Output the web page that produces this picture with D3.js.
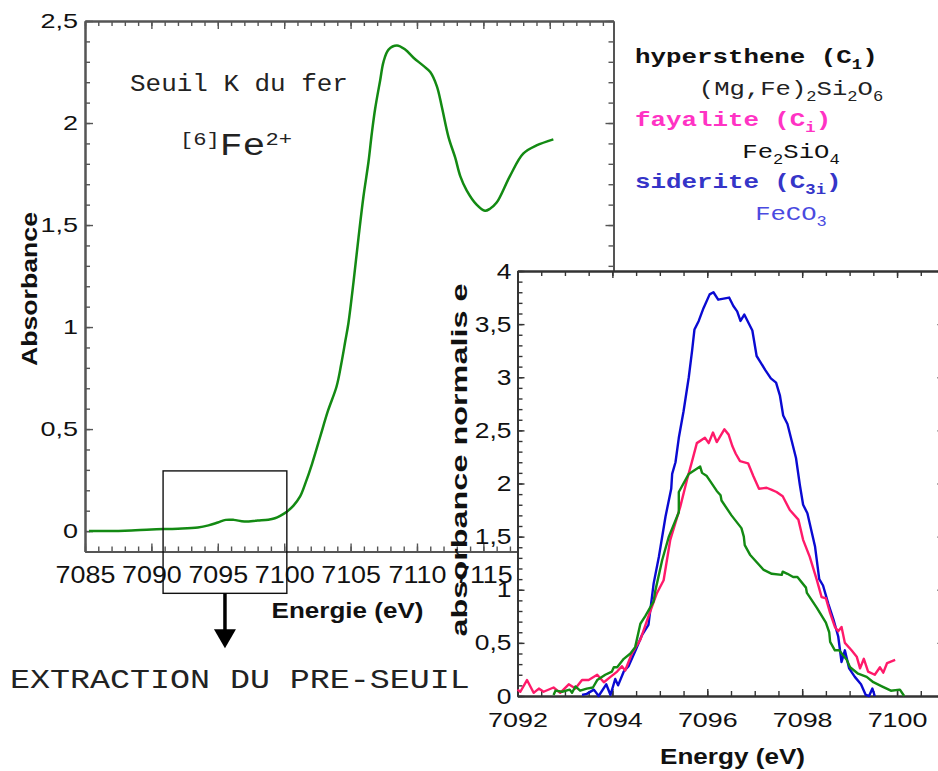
<!DOCTYPE html>
<html>
<head>
<meta charset="utf-8">
<script src="https://cdn.jsdelivr.net/npm/d3@7"></script>
<style>
  body { margin: 0; background: #fff; }
  svg { display: block; }
</style>
</head>
<body>
<div id="chart"></div>
<script>
// Seuil K du fer : spectre complet + extraction du pre-seuil (encart)
var width = 938;
var height = 771;

// main spectrum, [energy eV, absorbance]
var edge = [
  [7085.3, 0.000], [7088.0, 0.002], [7090.0, 0.008], [7092.0, 0.012], [7093.5, 0.018],
  [7094.3, 0.028], [7095.0, 0.042], [7095.6, 0.055], [7096.2, 0.055], [7097.0, 0.047],
  [7098.0, 0.052], [7098.8, 0.056], [7099.3, 0.063], [7099.7, 0.075], [7100.2, 0.095],
  [7100.7, 0.125], [7101.2, 0.170], [7101.6, 0.235], [7102.1, 0.330], [7102.7, 0.460],
  [7103.3, 0.590], [7103.95, 0.710], [7104.3, 0.820], [7104.6, 0.930], [7104.84, 1.020],
  [7105.22, 1.220], [7105.6, 1.440], [7105.97, 1.640], [7106.35, 1.810], [7106.6, 1.950],
  [7106.85, 2.070], [7107.23, 2.210], [7107.48, 2.300], [7107.86, 2.360], [7108.49, 2.380],
  [7109.11, 2.360], [7109.74, 2.320], [7110.49, 2.280], [7111.0, 2.250], [7111.5, 2.180],
  [7111.87, 2.080], [7112.38, 1.930], [7112.88, 1.830], [7113.26, 1.740], [7113.74, 1.670],
  [7114.49, 1.600], [7115.12, 1.570], [7115.5, 1.580], [7116.0, 1.610], [7117.0, 1.740],
  [7118.0, 1.850], [7119.0, 1.890], [7120.27, 1.920]
];

// pre-edge, [energy eV, normalised absorbance]
var hypersthene = [
  [7092.76, 0.01], [7092.80, 0.05], [7092.94, 0.04], [7093.10, 0.06], [7093.15, 0.03],
  [7093.22, 0.09], [7093.32, 0.05], [7093.46, 0.07], [7093.59, 0.08], [7093.68, 0.15],
  [7093.85, 0.20], [7093.99, 0.23], [7094.03, 0.27], [7094.10, 0.27], [7094.24, 0.35],
  [7094.38, 0.40], [7094.48, 0.46], [7094.59, 0.68], [7094.69, 0.75], [7094.87, 0.89],
  [7094.90, 0.98], [7095.05, 1.28], [7095.19, 1.50], [7095.40, 1.73], [7095.40, 1.92],
  [7095.61, 2.09], [7095.85, 2.16], [7095.89, 2.10], [7095.99, 2.07], [7096.20, 1.93],
  [7096.28, 1.89], [7096.30, 1.84], [7096.51, 1.70], [7096.72, 1.58], [7096.77, 1.50],
  [7096.79, 1.42], [7096.90, 1.33], [7097.18, 1.19], [7097.36, 1.15], [7097.57, 1.14],
  [7097.59, 1.17], [7097.69, 1.15], [7097.81, 1.12], [7097.90, 1.12], [7098.08, 1.02],
  [7098.10, 0.97], [7098.31, 0.83], [7098.50, 0.69], [7098.57, 0.60], [7098.59, 0.51],
  [7098.69, 0.43], [7098.78, 0.43], [7098.94, 0.34], [7099.01, 0.27], [7099.18, 0.21],
  [7099.36, 0.18], [7099.50, 0.13], [7099.68, 0.09], [7099.87, 0.05], [7100.06, 0.06],
  [7100.15, 0.00]
];

var fayalite = [
  [7092.00, 0.06], [7092.06, 0.04], [7092.20, 0.15], [7092.34, 0.03], [7092.45, 0.07],
  [7092.55, 0.04], [7092.76, 0.08], [7092.90, 0.03], [7093.08, 0.11], [7093.22, 0.07],
  [7093.36, 0.15], [7093.50, 0.15], [7093.68, 0.20], [7093.82, 0.13], [7093.96, 0.18],
  [7094.10, 0.23], [7094.20, 0.28], [7094.27, 0.24], [7094.41, 0.40], [7094.59, 0.53],
  [7094.76, 0.75], [7094.94, 0.97], [7095.08, 1.09], [7095.22, 1.47], [7095.43, 1.78],
  [7095.57, 2.03], [7095.68, 2.21], [7095.78, 2.38], [7095.95, 2.43], [7096.03, 2.38],
  [7096.12, 2.48], [7096.20, 2.39], [7096.36, 2.51], [7096.45, 2.46], [7096.53, 2.35],
  [7096.60, 2.28], [7096.69, 2.21], [7096.86, 2.19], [7096.97, 2.07], [7097.09, 1.95],
  [7097.25, 1.96], [7097.36, 1.94], [7097.46, 1.92], [7097.59, 1.88], [7097.74, 1.75],
  [7097.92, 1.66], [7098.02, 1.47], [7098.16, 1.31], [7098.31, 1.09], [7098.41, 0.93],
  [7098.50, 0.92], [7098.59, 0.78], [7098.69, 0.65], [7098.76, 0.61], [7098.83, 0.65],
  [7098.90, 0.50], [7099.04, 0.43], [7099.15, 0.37], [7099.22, 0.26], [7099.30, 0.35],
  [7099.39, 0.23], [7099.53, 0.20], [7099.64, 0.27], [7099.71, 0.22], [7099.79, 0.31],
  [7099.96, 0.34]
];

var siderite = [
  [7093.36, 0.01], [7093.46, 0.02], [7093.61, 0.06], [7093.71, 0.00], [7093.87, 0.11],
  [7093.96, 0.01], [7094.06, 0.16], [7094.12, 0.10], [7094.24, 0.23], [7094.34, 0.28],
  [7094.48, 0.42], [7094.62, 0.57], [7094.76, 0.67], [7094.87, 1.06], [7094.98, 1.31],
  [7095.12, 1.69], [7095.24, 1.95], [7095.26, 2.09], [7095.33, 2.20], [7095.40, 2.43],
  [7095.50, 2.68], [7095.61, 3.00], [7095.68, 3.25], [7095.73, 3.45], [7095.82, 3.53],
  [7095.92, 3.65], [7096.05, 3.78], [7096.13, 3.80], [7096.23, 3.73], [7096.46, 3.75],
  [7096.55, 3.67], [7096.63, 3.62], [7096.70, 3.53], [7096.78, 3.59], [7096.95, 3.44],
  [7097.04, 3.20], [7097.11, 3.15], [7097.22, 3.07], [7097.34, 2.99], [7097.45, 2.95],
  [7097.53, 2.83], [7097.60, 2.64], [7097.69, 2.56], [7097.78, 2.40], [7097.87, 2.24],
  [7097.95, 1.99], [7098.02, 1.80], [7098.11, 1.72], [7098.27, 1.41], [7098.36, 1.10],
  [7098.44, 1.04], [7098.55, 0.87], [7098.66, 0.72], [7098.76, 0.56], [7098.83, 0.32],
  [7098.90, 0.43], [7098.99, 0.26], [7099.11, 0.18], [7099.24, 0.11], [7099.34, 0.01],
  [7099.41, 0.00], [7099.48, 0.07], [7099.53, 0.00]
];

// tick labels
var mainXTicks = [7085, 7090, 7095, 7100, 7105, 7110, 7115, 7120];
var mainYTicks = [0, 0.5, 1, 1.5, 2, 2.5];
var insetXTicks = [7092, 7094, 7096, 7098, 7100];
var insetYTicks = [0, 0.5, 1, 1.5, 2, 2.5, 3, 3.5, 4];

// legend
var minerals = ["hypersthene", "fayalite", "siderite"];
var sites = ["1", "i", "3i"];
var formulas = [
  [["(Mg,Fe)", 0], ["2", 1], ["Si", 0], ["2", 1], ["O", 0], ["6", 1]],
  [["Fe", 0], ["2", 1], ["SiO", 0], ["4", 1]],
  [["FeCO", 0], ["3", 1]]
];
var mineralColors = ["#111111", "#ff33c4", "#3535c8"];
var formulaColors = ["#222222", "#111111", "#4a4ae0"];

var SANS = "'Liberation Sans', Arial, sans-serif";
var MONO = "'Liberation Mono', 'Courier New', monospace";

var svg = d3.select("#chart").append("svg")
    .attr("width", width)
    .attr("height", height);

var fmt = function(d) { return String(d).replace(".", ","); };

// stretch a text horizontally to a given width
function fit(t, x, y, w, rot) {
  var bw = t.node().getBBox().width;
  t.attr("transform", "translate(" + x + "," + y + ")" +
    (rot ? " rotate(" + rot + ")" : "") + " scale(" + (w / bw) + ",1)");
}

// parts: [text, 0 normal | 1 sub | -1 sup]
function rich(t, parts, size, small, shift) {
  var cur = 0;
  parts.forEach(function(p) {
    var off = p[1] * shift;
    t.append("tspan")
      .attr("dy", off - cur)
      .attr("font-size", p[1] ? small : size)
      .text(p[0]);
    cur = off;
  });
}

// box axes with inward ticks on the four sides
function frame(g, x, y, o) {
  var xr = x.range(), yr = y.range();
  var sides = [
    [d3.axisBottom, x, "translate(0," + yr[0] + ")", o.xMajor, o.xMinor, true, "x"],
    [d3.axisTop, x, "translate(0," + yr[1] + ")", o.xMajor, o.xMinor, false, "x"],
    [d3.axisLeft, y, "translate(" + xr[0] + ",0)", o.yMajor, o.yMinor, true, "y"],
    [d3.axisRight, y, "translate(" + xr[1] + ",0)", o.yMajor, o.yMinor, false, "y"]
  ];
  sides.forEach(function(s) {
    var mg = g.append("g").attr("transform", s[2])
      .call(s[0](s[1]).tickValues(s[4]).tickSize(-o.minorLen).tickSizeOuter(0).tickFormat(""));
    var ag = g.append("g").attr("transform", s[2])
      .call(s[0](s[1]).tickValues(s[3]).tickSize(-o.majorLen).tickSizeOuter(0)
        .tickPadding(s[6] == "x" ? o.xPad : o.yPad)
        .tickFormat(s[5] ? fmt : ""));
    [mg, ag].forEach(function(a) {
      a.select(".domain").attr("stroke", o.color).attr("stroke-width", o.lineW);
      a.selectAll(".tick line").attr("stroke", o.color).attr("stroke-width", 1.4);
    });
    mg.selectAll("text").remove();
    if (!s[5]) { ag.selectAll("text").remove(); return; }
    var k = s[6] == "x" ? o.xK : o.yK;
    ag.selectAll("text")
      .attr("font-family", SANS)
      .attr("font-size", s[6] == "x" ? o.xFont : o.yFont)
      .attr("fill", "#111")
      .attr("transform", "scale(" + k + ",1)");
    if (s[6] == "y") ag.selectAll("text").attr("x", -o.yPad / k);
  });
}

// ---------- main spectrum ----------
var x = d3.scaleLinear().domain([7085, 7124.8]).range([85, 613.5]);
var y = d3.scaleLinear().domain([-0.1, 2.5]).range([551.5, 21]);

var main = svg.append("g");

frame(main, x, y, {
  xMajor: mainXTicks, xMinor: d3.range(7085, 7125, 1),
  yMajor: mainYTicks, yMinor: d3.range(-0.1, 2.55, 0.1),
  majorLen: 8, minorLen: 5, color: "#555", lineW: 2,
  xPad: 14, yPad: 7, xFont: 24, yFont: 20, xK: 1.12, yK: 1.35
});

main.append("path")
    .datum(edge)
    .attr("fill", "none")
    .attr("stroke", "#138a13")
    .attr("stroke-width", 2.5)
    .attr("d", d3.line()
      .x(function(d) { return x(d[0]); })
      .y(function(d) { return y(d[1]); })
      .curve(d3.curveCatmullRom.alpha(0.5)));

// pre-edge window + arrow
var boxE = [7090.88, 7100.2], boxA = [0.295, -0.305];
main.append("rect")
    .attr("x", x(boxE[0]))
    .attr("y", y(boxA[0]))
    .attr("width", x(boxE[1]) - x(boxE[0]))
    .attr("height", y(boxA[1]) - y(boxA[0]))
    .attr("fill", "none")
    .attr("stroke", "#111")
    .attr("stroke-width", 1.4);

var ax = x((boxE[0] + boxE[1]) / 2), ay = y(boxA[1]);
main.append("line")
    .attr("x1", ax).attr("x2", ax)
    .attr("y1", ay).attr("y2", ay + 40)
    .attr("stroke", "#000").attr("stroke-width", 3.5);
main.append("path")
    .attr("d", "M" + (ax - 11) + "," + (ay + 36) + "L" + (ax + 11) + "," + (ay + 36) +
      "L" + ax + "," + (ay + 55) + "Z")
    .attr("fill", "#000");

var t;
t = main.append("text").attr("font-family", MONO).attr("font-size", 24).attr("fill", "#222")
    .text("Seuil K du fer");
fit(t, 130, 91, 218);

t = main.append("text").attr("font-family", MONO).attr("fill", "#222");
rich(t, [["[6]", -1], ["Fe", 0], ["2+", -1]], 31, 18, 10);
fit(t, 180, 155, 112);

t = main.append("text").attr("font-family", MONO).attr("font-size", 28).attr("fill", "#222")
    .text("EXTRACTION DU PRE-SEUIL");
fit(t, 10, 688, 460);

t = main.append("text").attr("font-family", SANS).attr("font-weight", "bold")
    .attr("font-size", 22).attr("text-anchor", "middle").attr("fill", "#111")
    .text("Energie (eV)");
fit(t, 347.5, 618, 152);

t = main.append("text").attr("font-family", SANS).attr("font-weight", "bold")
    .attr("font-size", 22).attr("text-anchor", "middle").attr("fill", "#111")
    .text("Absorbance");
fit(t, 37, 289, 154, -90);

// legend
var lg = svg.append("g");
minerals.forEach(function(m, i) {
  var tm = lg.append("text").attr("font-family", MONO).attr("font-weight", "bold")
      .attr("fill", mineralColors[i]);
  rich(tm, [[m + " (C", 0], [sites[i], 1], [")", 0]], 21, 14, 6);
  tm.attr("transform", "translate(635," + (63 + i * 62.5) + ") scale(1.23,1)");

  var tf = lg.append("text").attr("font-family", MONO).attr("text-anchor", "middle")
      .attr("fill", formulaColors[i]);
  rich(tf, formulas[i], 21, 14, 6);
  tf.attr("transform", "translate(791," + (95 + i * 62.5) + ") scale(1.22,1)");
});

// ---------- inset: pre-edge ----------
var xi = d3.scaleLinear().domain([7092, 7101]).range([517.5, 944.5]);
var yi = d3.scaleLinear().domain([0, 4]).range([696, 271]);

var inset = svg.append("g");

inset.append("rect")
    .attr("x", xi.range()[0]).attr("y", yi.range()[1])
    .attr("width", xi.range()[1] - xi.range()[0])
    .attr("height", yi.range()[0] - yi.range()[1])
    .attr("fill", "#fff");

frame(inset, xi, yi, {
  xMajor: insetXTicks, xMinor: d3.range(7092, 7101.01, 0.5),
  yMajor: insetYTicks, yMinor: d3.range(0, 4.05, 0.1),
  majorLen: 7, minorLen: 5, color: "#333", lineW: 1.8,
  xPad: 16, yPad: 6, xFont: 21, yFont: 22, xK: 1.28, yK: 1.2
});

var line = d3.line()
    .x(function(d) { return xi(d[0]); })
    .y(function(d) { return yi(d[1]); });

[[siderite, "#0a0ad2"], [fayalite, "#ff1a6a"], [hypersthene, "#138a13"]].forEach(function(s) {
  inset.append("path")
      .datum(s[0])
      .attr("fill", "none")
      .attr("stroke", s[1])
      .attr("stroke-width", 2.4)
      .attr("stroke-linejoin", "round")
      .attr("d", line);
});

t = inset.append("text").attr("font-family", SANS).attr("font-weight", "bold")
    .attr("font-size", 22).attr("text-anchor", "middle").attr("fill", "#111")
    .text("Energy (eV)");
fit(t, 732.5, 764, 145);

t = inset.append("text").attr("font-family", SANS).attr("font-weight", "bold")
    .attr("font-size", 22).attr("text-anchor", "middle").attr("fill", "#111")
    .text("absorbance normalis e");
fit(t, 467, 460, 353, -90);
</script>
</body>
</html>
